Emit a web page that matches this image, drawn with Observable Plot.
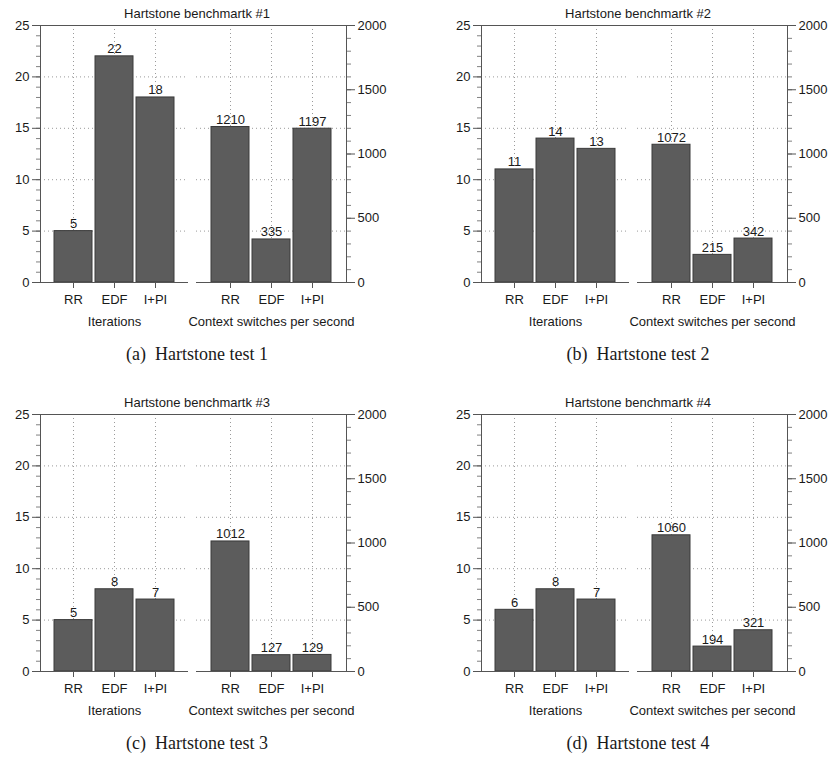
<!DOCTYPE html>
<html>
<head>
<meta charset="utf-8">
<script src="https://cdn.jsdelivr.net/npm/d3@7"></script>
<script src="https://cdn.jsdelivr.net/npm/@observablehq/plot@0.6"></script>
<style>
  html, body { margin: 0; padding: 0; background: #fff; }
  #root { position: relative; width: 839px; height: 758px; overflow: hidden; }
  .title { position: absolute; text-align: center; font: 13px/13px "Liberation Sans", Arial, sans-serif; color: #1a1a1a; white-space: nowrap; }
  .caption { position: absolute; text-align: center; font: 18px/18px "Liberation Serif", "Times New Roman", serif; color: #1a1a1a; white-space: pre; }
  .grp { position: absolute; }
  svg { overflow: visible; }
</style>
</head>
<body>
<div id="root"></div>
<script>
// ---- data ----
const policies = ["RR", "EDF", "I+PI"];
const titles = ["Hartstone benchmartk #1", "Hartstone benchmartk #2", "Hartstone benchmartk #3", "Hartstone benchmartk #4"];
const captions = ["(a)  Hartstone test 1", "(b)  Hartstone test 2", "(c)  Hartstone test 3", "(d)  Hartstone test 4"];
const groupLabels = ["Iterations", "Context switches per second"];
const iterations = [
  [5, 22, 18],
  [11, 14, 13],
  [5, 8, 7],
  [6, 8, 7]
];
const contextSwitches = [
  [1210, 335, 1197],
  [1072, 215, 342],
  [1012, 127, 129],
  [1060, 194, 321]
];
const itMax = 25;
const csMax = 2000;
const itTicks = [0, 5, 10, 15, 20, 25];
const itMinor = d3.range(0, 26, 1);
const csTicks = [0, 500, 1000, 1500, 2000];
const csMinor = d3.range(0, 2001, 100);
const itGrid = [5, 10, 15, 20];
const csGrid = itGrid.map(v => v * csMax / itMax);

// ---- layout ----
const panelLeft = [40, 481, 40, 481];
const panelTop = [25, 25, 414, 414];
const plotH = 257;
const mTop = 10, mBottom = 50;
const leftW = 148, gapHalf = 8, rightW = 150, outerM = 40, outerR = 50;
const axisColor = "#555";
const gridColor = "#9a9a9a";

function makeGroup(values, yMax, ticks, minor, grid, anchor, label) {
  const isLeft = anchor === "left";
  const data = policies.map((p, i) => ({policy: p, value: values[i]}));
  return Plot.plot({
    width: isLeft ? outerM + leftW + gapHalf : gapHalf + rightW + outerR,
    height: mTop + plotH + mBottom,
    marginTop: mTop,
    marginBottom: mBottom,
    marginLeft: isLeft ? outerM : gapHalf,
    marginRight: isLeft ? gapHalf : outerR,
    style: {fontSize: "13px", fontFamily: "Liberation Sans, Arial, sans-serif", color: "#1a1a1a", background: "transparent", overflow: "visible"},
    x: {type: "band", domain: policies, paddingInner: 0.08, paddingOuter: 0.33},
    y: {domain: [0, yMax]},
    marks: [
      Plot.ruleY(grid, {stroke: gridColor, strokeDasharray: "1,3"}),
      Plot.ruleX(policies, {x: d => d, stroke: gridColor, strokeDasharray: "1,3"}),
      Plot.barY(data, {x: "policy", y: "value", fill: "#5c5c5c", stroke: "#3a3a3a", strokeWidth: 1}),
      Plot.text(data, {x: "policy", y: "value", text: d => String(d.value), dy: -3, lineAnchor: "bottom", fontSize: 13}),
      Plot.ruleY([0], {stroke: axisColor}),
      Plot.ruleY([yMax], {stroke: axisColor, insetLeft: isLeft ? 0 : -gapHalf, insetRight: isLeft ? -gapHalf : 0}),
      Plot.frame({anchor: anchor, stroke: axisColor}),
      Plot.axisY({anchor, ticks: minor, tickSize: 4, tickFormat: () => "", stroke: "#808080", label: null}),
      Plot.axisY({anchor, ticks, tickSize: 8, tickPadding: 3, tickFormat: d => String(d), label: null, stroke: axisColor, fontSize: 13}),
      Plot.axisX({tickSize: 6, tickPadding: 6, label: null, stroke: axisColor, fontSize: 13}),
      Plot.text([label], {text: d => d, frameAnchor: "bottom", dy: 34, lineAnchor: "top", fontSize: 13})
    ]
  });
}

const root = document.getElementById("root");
for (let k = 0; k < 4; k++) {
  const L = panelLeft[k], T = panelTop[k];
  const total = leftW + 2 * gapHalf + rightW;

  const t = document.createElement("div");
  t.className = "title";
  t.style.left = L + "px";
  t.style.width = total + "px";
  t.style.top = (T - 7 - 11) + "px";
  t.textContent = titles[k];
  root.appendChild(t);

  const g1 = document.createElement("div");
  g1.className = "grp";
  g1.style.left = (L - outerM) + "px";
  g1.style.top = (T - mTop) + "px";
  g1.appendChild(makeGroup(iterations[k], itMax, itTicks, itMinor, itGrid, "left", groupLabels[0]));
  root.appendChild(g1);

  const g2 = document.createElement("div");
  g2.className = "grp";
  g2.style.left = (L + leftW) + "px";
  g2.style.top = (T - mTop) + "px";
  g2.appendChild(makeGroup(contextSwitches[k], csMax, csTicks, csMinor, csGrid, "right", groupLabels[1]));
  root.appendChild(g2);

  const c = document.createElement("div");
  c.className = "caption";
  c.style.left = L + "px";
  c.style.width = total + "px";
  c.style.top = (T + plotH + 78 - 15) + "px";
  c.textContent = captions[k];
  root.appendChild(c);
}
</script>
</body>
</html>
